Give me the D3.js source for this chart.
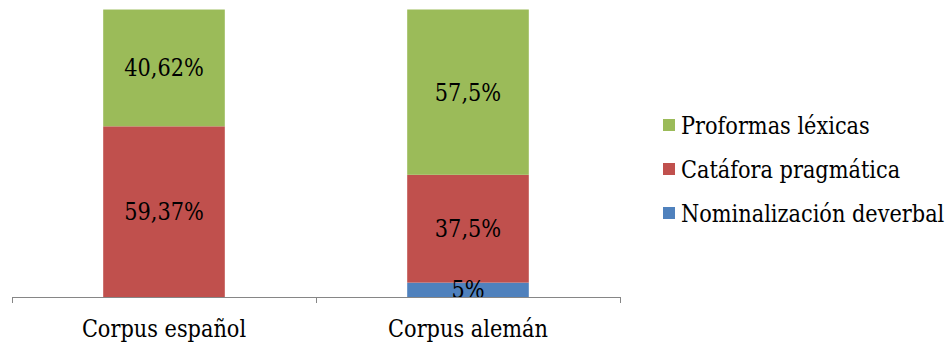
<!DOCTYPE html>
<html>
<head>
<meta charset="utf-8">
<script src="https://cdn.jsdelivr.net/npm/d3@7"></script>
<style>
  html, body { margin: 0; padding: 0; background: #fff; }
  svg { display: block; }
</style>
</head>
<body>
<svg id="chart" width="952" height="345"></svg>
<script>
// Categories and stacked percentage values (bottom to top)
const categories = ["Corpus español", "Corpus alemán"];
const seriesNames = ["Nominalización deverbal", "Catáfora pragmática", "Proformas léxicas"];
const nominalizacion = [0, 5];
const catafora = [59.37, 37.5];
const proformas = [40.62, 57.5];
const valueLabels = [
  ["", "5%"],
  ["59,37%", "37,5%"],
  ["40,62%", "57,5%"]
];
const colors = ["#4F81BD", "#C0504D", "#9BBB59"];

const serif = "DejaVu Serif, Liberation Serif, Tinos, Noto Serif, FreeSerif, serif";
const svg = d3.select("#chart").attr("font-family", serif);
const fontSize = 24;
const squeeze = 0.87; // condense the wide serif face horizontally

const x = d3.scaleBand().domain(categories).range([12, 620]).paddingInner(0.6).paddingOuter(0.3);
const xAxisBand = d3.scaleBand().domain(categories).range([12, 620]).padding(0);
const y = d3.scaleLinear().domain([0, 100]).range([297, 9.5]);

const rows = categories.map((c, i) => ({
  cat: c,
  nominal: nominalizacion[i],
  catafora: catafora[i],
  proformas: proformas[i]
}));
const keys = ["nominal", "catafora", "proformas"];
const stack = d3.stack().keys(keys)(rows);

const layers = svg.append("g").selectAll("g")
  .data(stack).join("g")
  .attr("fill", (d, i) => colors[i]);

layers.selectAll("rect")
  .data(d => d)
  .join("rect")
  .attr("x", d => x(d.data.cat))
  .attr("width", x.bandwidth())
  .attr("y", d => y(d[1]))
  .attr("height", d => y(d[0]) - y(d[1]));

function addText(sel, px, py, anchor, str) {
  return sel.append("text")
    .attr("transform", `translate(${px},${py}) scale(${squeeze},1)`)
    .attr("font-family", serif)
    .attr("font-size", fontSize)
    .attr("text-anchor", anchor)
    .attr("fill", "#000")
    .text(str);
}

// Value labels centred in each segment
stack.forEach((layer, li) => {
  layer.forEach((d, ci) => {
    const label = valueLabels[li][ci];
    if (!label) return;
    addText(svg, x(d.data.cat) + x.bandwidth() / 2, (y(d[0]) + y(d[1])) / 2 + 8.5, "middle", label);
  });
});

// Category axis with ticks at band boundaries
const axisG = svg.append("g");
axisG.append("line")
  .attr("x1", 12).attr("x2", 620)
  .attr("y1", y(0) + 0.5).attr("y2", y(0) + 0.5)
  .attr("stroke", "#868686").attr("stroke-width", 1);
const tickXs = categories.map(c => xAxisBand(c)).concat([xAxisBand.range()[1]]);
axisG.selectAll("line.tick")
  .data(tickXs).join("line")
  .attr("class", "tick")
  .attr("x1", d => d + 0.5).attr("x2", d => d + 0.5)
  .attr("y1", y(0)).attr("y2", y(0) + 6)
  .attr("stroke", "#868686").attr("stroke-width", 1);
categories.forEach(c => {
  addText(axisG, x(c) + x.bandwidth() / 2, 337, "middle", c);
});

// Legend (top to bottom: last series first)
const legendItems = seriesNames.map((n, i) => ({ name: n, color: colors[i] })).reverse();
const legend = svg.append("g").attr("transform", "translate(663,125)");
legendItems.forEach((d, i) => {
  const g = legend.append("g").attr("transform", `translate(0,${i * 44})`);
  g.append("rect")
    .attr("x", 0).attr("y", -6)
    .attr("width", 12).attr("height", 12)
    .attr("fill", d.color);
  addText(g, 18, 8.5, "start", d.name);
});
</script>
</body>
</html>
